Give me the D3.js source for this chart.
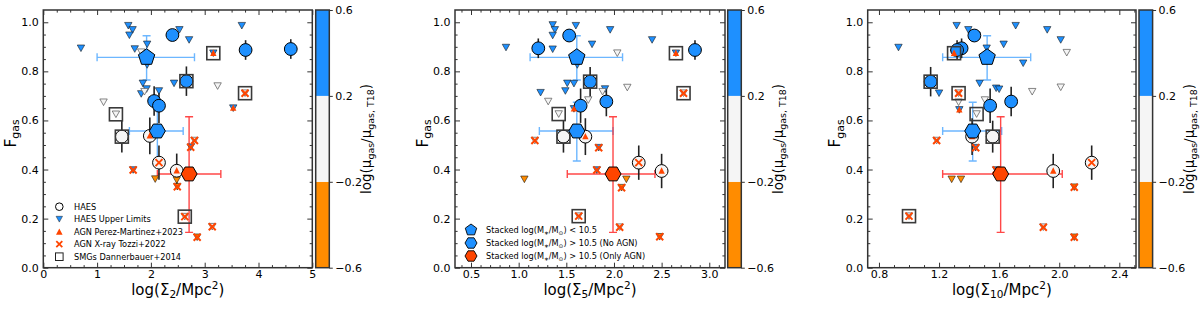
<!DOCTYPE html>
<html>
<head>
<meta charset="utf-8">
<script src="https://cdn.jsdelivr.net/npm/d3@7"></script>
<style>
  body { margin: 0; background: #fff; }
  svg { display: block; font-family: 'DejaVu Sans', sans-serif; }
</style>
</head>
<body>
<svg id="chart" width="1200" height="309"></svg>
<script>
// ---- data ----
// x-axis settings of the three panels (Sigma_2, Sigma_5, Sigma_10)
const xDomains = [[0, 5], [0.332, 3.165], [0.725, 2.511]];
const xMajor = [[0, 1, 2, 3, 4, 5], [0.5, 1.0, 1.5, 2.0, 2.5, 3.0], [0.8, 1.2, 1.6, 2.0, 2.4]];
const xMinorStep = [0.25, 0.1, 0.1];
const xSub = ['2', '5', '10'];
const fgasTicks = [0, 0.2, 0.4, 0.6, 0.8, 1.0];

// colour bar log(mu_gas / mu_gas,T18)
const cbTicks = [-0.6, -0.2, 0.2, 0.6];
const cbBins = [[-0.6, -0.2, 'o'], [-0.2, 0.2, 'w'], [0.2, 0.6, 'b']];

// HAES detections: [x, Fgas, error, colour class, overlay]
const haes2 = [
  [2.40, 0.948, 0.02, 'b', ''], [3.76, 0.887, 0.04, 'b', ''], [4.60, 0.891, 0.04, 'b', ''],
  [2.66, 0.760, 0.06, 'b', 'smg'], [2.06, 0.679, 0.06, 'b', ''], [2.15, 0.660, 0.07, 'b', ''],
  [1.46, 0.534, 0.065, 'w', 'smg'], [1.98, 0.537, 0.075, 'w', 'agn'],
  [2.15, 0.428, 0.07, 'w', 'xr'], [2.48, 0.395, 0.07, 'w', 'agn']
];
const haes5 = [
  [1.53, 0.946, 0.02, 'b', ''], [1.206, 0.894, 0.04, 'b', ''], [2.85, 0.887, 0.04, 'b', ''],
  [1.75, 0.758, 0.06, 'b', 'smg'], [1.92, 0.677, 0.06, 'b', ''], [1.65, 0.660, 0.07, 'b', ''],
  [1.47, 0.534, 0.065, 'w', 'smg'], [1.70, 0.534, 0.075, 'w', 'agn'],
  [2.26, 0.428, 0.07, 'w', 'xr'], [2.50, 0.394, 0.07, 'w', 'agn']
];
const haes10 = [
  [1.435, 0.946, 0.02, 'b', ''], [1.35, 0.894, 0.04, 'b', ''], [1.32, 0.887, 0.04, 'b', ''],
  [1.144, 0.758, 0.06, 'b', 'smg'], [1.68, 0.677, 0.06, 'b', ''], [1.54, 0.660, 0.07, 'b', ''],
  [1.557, 0.534, 0.065, 'w', 'smg'], [1.42, 0.534, 0.075, 'w', 'agn'],
  [2.216, 0.428, 0.07, 'w', 'xr'], [1.96, 0.394, 0.07, 'w', 'agn']
];

// HAES upper limits: [x, Fgas, colour class, overlay]
const upper2 = [
  [0.70, 0.894, 'b', ''], [1.58, 0.986, 'b', ''], [1.66, 0.969, 'b', ''], [1.60, 0.947, 'b', ''],
  [2.53, 0.969, 'b', ''], [2.71, 0.928, 'b', ''], [3.69, 0.986, 'b', ''], [1.70, 0.891, 'b', ''],
  [1.93, 0.910, 'b', ''], [1.93, 0.826, 'b', ''], [1.85, 0.751, 'b', ''], [1.92, 0.728, 'b', ''],
  [1.82, 0.708, 'b', ''], [2.15, 0.720, 'b', ''], [2.43, 0.751, 'b', ''],
  [3.53, 0.650, 'b', 'agn'], [3.16, 0.874, 'b', 'agn smg'], [1.67, 0.398, 'b', 'xr'], [2.74, 0.491, 'b', 'xr'],
  [1.82, 0.878, 'w', ''], [1.12, 0.674, 'w', ''], [1.35, 0.625, 'w', 'smg'], [3.24, 0.740, 'w', ''],
  [1.88, 0.717, 'w', ''], [2.03, 0.683, 'w', ''],
  [3.75, 0.711, 'w', 'xr smg'], [2.81, 0.518, 'w', 'xr'], [3.14, 0.167, 'w', 'xr'], [2.63, 0.208, 'w', 'xr smg'],
  [2.08, 0.361, 'o', ''], [2.48, 0.357, 'o', ''], [2.49, 0.330, 'o', 'xr'], [2.86, 0.124, 'o', 'xr']
];
const upper5 = [
  [0.867, 0.897, 'b', ''], [1.357, 0.989, 'b', ''], [1.38, 0.969, 'b', ''], [1.357, 0.946, 'b', ''],
  [1.96, 0.969, 'b', ''], [2.40, 0.928, 'b', ''], [1.60, 0.986, 'b', ''], [1.357, 0.890, 'b', ''],
  [1.77, 0.910, 'b', ''], [1.615, 0.826, 'b', ''], [1.51, 0.751, 'b', ''], [1.58, 0.750, 'b', ''],
  [1.906, 0.728, 'b', ''], [1.49, 0.720, 'b', ''], [1.23, 0.713, 'b', ''],
  [1.58, 0.647, 'b', 'agn'], [2.65, 0.874, 'b', 'agn smg'], [1.82, 0.398, 'b', 'xr'], [1.84, 0.489, 'b', 'xr'],
  [2.035, 0.874, 'w', ''], [1.31, 0.677, 'w', ''], [1.42, 0.626, 'w', 'smg'], [2.14, 0.734, 'w', ''],
  [1.88, 0.717, 'w', ''], [1.73, 0.683, 'w', ''],
  [2.73, 0.711, 'w', 'xr smg'], [1.17, 0.518, 'w', 'xr'], [2.06, 0.165, 'w', 'xr'], [1.63, 0.210, 'w', 'xr smg'],
  [1.06, 0.360, 'o', ''], [2.13, 0.360, 'o', ''], [2.08, 0.326, 'o', 'xr'], [2.48, 0.126, 'o', 'xr']
];
const upper10 = [
  [0.93, 0.897, 'b', ''], [1.317, 0.986, 'b', ''], [1.395, 0.969, 'b', ''], [1.45, 0.946, 'b', ''],
  [1.92, 0.969, 'b', ''], [2.01, 0.928, 'b', ''], [1.71, 0.986, 'b', ''], [1.517, 0.894, 'b', ''],
  [1.63, 0.910, 'b', ''], [1.76, 0.833, 'b', ''], [1.47, 0.751, 'b', ''], [1.58, 0.731, 'b', ''],
  [1.60, 0.727, 'b', ''], [1.20, 0.711, 'b', ''],
  [1.335, 0.643, 'b', 'agn'], [1.30, 0.874, 'b', 'agn smg'], [1.58, 0.398, 'b', 'xr'], [1.444, 0.489, 'b', 'xr'],
  [2.05, 0.876, 'w', ''], [1.33, 0.674, 'w', ''], [1.45, 0.626, 'w', 'smg'], [2.01, 0.735, 'w', ''],
  [1.82, 0.717, 'w', ''], [1.505, 0.683, 'w', ''],
  [1.33, 0.711, 'w', 'xr smg'], [1.184, 0.518, 'w', 'xr'], [1.894, 0.165, 'w', 'xr'], [1.00, 0.210, 'w', 'xr smg'],
  [1.284, 0.360, 'o', ''], [1.346, 0.360, 'o', ''], [2.10, 0.328, 'o', 'xr'], [2.10, 0.124, 'o', 'xr']
];

// stacked points: low mass, high mass (no AGN), high mass (only AGN)
const stackF = [0.857, 0.557, 0.382];
const stackFlo = [0.765, 0.435, 0.144];
const stackFhi = [0.945, 0.674, 0.615];
// [x, x low, x high] per panel
const stack2 = [[1.92, 1.00, 2.81], [2.12, 1.60, 2.60], [2.71, 2.12, 3.30]];
const stack5 = [[1.61, 1.12, 2.09], [1.61, 1.217, 1.99], [1.99, 1.51, 2.43]];
const stack10 = [[1.52, 1.224, 1.81], [1.424, 1.224, 1.617], [1.61, 1.224, 2.02]];

const legendHaes = ['HAES', 'HAES Upper Limits', 'AGN Perez-Martinez+2023', 'AGN X-ray Tozzi+2022', 'SMGs Dannerbauer+2014'];
const legendStack = ['< 10.5', '> 10.5 (No AGN)', '> 10.5 (Only AGN)'];

// ---- layout & style ----
const plotTop = 10, plotBottom = 267.7;
const boxes = [
  {left: 43.3, right: 312.3, cb: 315.7},
  {left: 455, right: 725, cb: 727.7},
  {left: 867.7, right: 1136, cb: 1139}
];
const cbW = 13.6;
const fill = {b: '#1e90ff', w: '#f5f5f5', o: '#ff8c00'};
const agnColor = '#ff4500';
const frameColor = '#333';

const svg = d3.select('#chart');
const y = d3.scaleLinear().domain([0, 1.05]).range([plotBottom, plotTop]);

function triPath(cx, cy, w, h, down) {
  const s = down ? 1 : -1;
  return `M${cx},${cy + s * h / 2}L${cx - w / 2},${cy - s * h / 2}L${cx + w / 2},${cy - s * h / 2}Z`;
}

function polyPath(cx, cy, r, n, rot) {
  const pts = d3.range(n).map(i => {
    const a = rot + i * 2 * Math.PI / n;
    return [cx + r * Math.sin(a), cy - r * Math.cos(a)];
  });
  return 'M' + pts.join('L') + 'Z';
}

function xPath(cx, cy, s) {
  return `M${cx - s / 2},${cy - s / 2}L${cx + s / 2},${cy + s / 2}M${cx - s / 2},${cy + s / 2}L${cx + s / 2},${cy - s / 2}`;
}

function minorTicks(domain, step, major) {
  const out = [];
  for (let k = Math.ceil(domain[0] / step - 1e-9); k * step <= domain[1] + 1e-9; k++) {
    const v = +(k * step).toFixed(6);
    if (v <= domain[0] + 1e-6 || v >= domain[1] - 1e-6) continue;
    if (!major.some(m => Math.abs(m - v) < 1e-6)) out.push(v);
  }
  return out;
}

// text with sub / superscripts; parts = [[text, 'n' | 'sub' | 'sup']]
function richText(sel, parts, fs) {
  let shift = 0;
  parts.forEach(([t, kind]) => {
    const target = kind === 'sub' ? fs * 0.22 : kind === 'sup' ? -fs * 0.38 : 0;
    sel.append('tspan')
      .attr('dy', target - shift)
      .attr('font-size', kind === 'n' ? fs : fs * 0.7)
      .text(t);
    shift = target;
  });
}

function styleAxis(g) {
  g.select('.domain').remove();
  g.selectAll('line').attr('stroke', frameColor);
  g.selectAll('text').attr('fill', '#000').attr('font-family', 'DejaVu Sans');
}

function drawPanel(i, det, upper, stack) {
  const box = boxes[i];
  const x = d3.scaleLinear().domain(xDomains[i]).range([box.left, box.right]);
  const g = svg.append('g');
  const fmt = i === 0 ? d3.format('d') : d3.format('.1f');
  const xMin = minorTicks(xDomains[i], xMinorStep[i], xMajor[i]);
  const yMin = minorTicks([0, 1.05], 0.05, fgasTicks);

  // major + minor ticks on all four sides, pointing in
  g.append('g').attr('transform', `translate(0,${plotBottom})`)
    .call(d3.axisBottom(x).tickValues(xMajor[i]).tickSize(-5).tickPadding(3).tickFormat(fmt))
    .call(styleAxis).selectAll('text').attr('font-size', 11);
  g.append('g').attr('transform', `translate(0,${plotBottom})`)
    .call(d3.axisBottom(x).tickValues(xMin).tickSize(-2.6).tickFormat(''))
    .call(styleAxis);
  g.append('g').attr('transform', `translate(0,${plotTop})`)
    .call(d3.axisTop(x).tickValues(xMajor[i]).tickSize(-5).tickFormat(''))
    .call(styleAxis);
  g.append('g').attr('transform', `translate(0,${plotTop})`)
    .call(d3.axisTop(x).tickValues(xMin).tickSize(-2.6).tickFormat(''))
    .call(styleAxis);
  g.append('g').attr('transform', `translate(${box.left},0)`)
    .call(d3.axisLeft(y).tickValues(fgasTicks).tickSize(-5).tickPadding(4.5).tickFormat(d3.format('.1f')))
    .call(styleAxis).selectAll('text').attr('font-size', 11);
  g.append('g').attr('transform', `translate(${box.left},0)`)
    .call(d3.axisLeft(y).tickValues(yMin).tickSize(-2.6).tickFormat(''))
    .call(styleAxis);
  g.append('g').attr('transform', `translate(${box.right},0)`)
    .call(d3.axisRight(y).tickValues(fgasTicks).tickSize(-5).tickFormat(''))
    .call(styleAxis);
  g.append('g').attr('transform', `translate(${box.right},0)`)
    .call(d3.axisRight(y).tickValues(yMin).tickSize(-2.6).tickFormat(''))
    .call(styleAxis);

  // stacked error bars
  const errCol = [['#1e90ff', 0.65], ['#1e90ff', 0.65], ['#ff1a1a', 0.8]];
  stack.forEach((s, k) => {
    const cx = x(s[0]), cy = y(stackF[k]);
    const eg = g.append('g').attr('stroke', errCol[k][0]).attr('stroke-opacity', errCol[k][1])
      .attr('stroke-width', 1.4).attr('fill', 'none');
    const y1 = y(stackFlo[k]), y2 = y(stackFhi[k]);
    eg.append('path').attr('d',
      `M${x(s[1])},${cy}H${x(s[2])}M${cx},${y1}V${y2}` +
      `M${x(s[1])},${cy - 4}V${cy + 4}M${x(s[2])},${cy - 4}V${cy + 4}` +
      `M${cx - 4},${y1}H${cx + 4}M${cx - 4},${y2}H${cx + 4}`);
  });

  // detection error bars
  g.append('g').selectAll('line').data(det).join('line')
    .attr('x1', d => x(d[0])).attr('x2', d => x(d[0]))
    .attr('y1', d => y(d[1] - d[2])).attr('y2', d => y(d[1] + d[2]))
    .attr('stroke', '#222').attr('stroke-width', 1.6);

  // upper limits
  g.append('g').selectAll('path').data(upper).join('path')
    .attr('d', d => triPath(x(d[0]), y(d[1]), 7.4, 6.6, true))
    .attr('fill', d => fill[d[2]])
    .attr('stroke', d => d[2] === 'w' ? '#666' : '#1a1a1a')
    .attr('stroke-width', d => d[2] === 'w' ? 0.8 : 0.6);

  // detections
  g.append('g').selectAll('circle').data(det).join('circle')
    .attr('cx', d => x(d[0])).attr('cy', d => y(d[1])).attr('r', 6.4)
    .attr('fill', d => fill[d[3]]).attr('stroke', '#000').attr('stroke-width', 1);

  // overlays: SMG squares, AGN triangles, X-ray crosses
  const marks = det.map(d => [d[0], d[1], d[4]]).concat(upper.map(d => [d[0], d[1], d[3]]));
  g.append('g').selectAll('rect').data(marks.filter(d => d[2].includes('smg'))).join('rect')
    .attr('x', d => x(d[0]) - 6.5).attr('y', d => y(d[1]) - 6.5)
    .attr('width', 13).attr('height', 13)
    .attr('fill', 'none').attr('stroke', '#3a3a3a').attr('stroke-width', 1.6);
  g.append('g').selectAll('path').data(marks.filter(d => d[2].includes('agn'))).join('path')
    .attr('d', d => triPath(x(d[0]), y(d[1]) - 0.5, 6.4, 6.4, false))
    .attr('fill', agnColor);
  g.append('g').selectAll('path').data(marks.filter(d => d[2].includes('xr'))).join('path')
    .attr('d', d => xPath(x(d[0]), y(d[1]), 7))
    .attr('fill', 'none').attr('stroke', agnColor).attr('stroke-width', 2);

  // stacked markers
  const stackShape = [
    (cx, cy) => polyPath(cx, cy, 8.6, 5, 0),
    (cx, cy) => polyPath(cx, cy, 8, 6, Math.PI / 6),
    (cx, cy) => polyPath(cx, cy, 8, 6, Math.PI / 6)
  ];
  const stackFill = [fill.b, fill.b, agnColor];
  g.append('g').selectAll('path').data(stack).join('path')
    .attr('d', (s, k) => stackShape[k](x(s[0]), y(stackF[k])))
    .attr('fill', (s, k) => stackFill[k]).attr('stroke', '#000').attr('stroke-width', 1);

  // frame
  g.append('rect').attr('x', box.left).attr('y', plotTop)
    .attr('width', box.right - box.left).attr('height', plotBottom - plotTop)
    .attr('fill', 'none').attr('stroke', frameColor).attr('stroke-width', 1.5);

  // axis labels
  const xl = g.append('text').attr('x', (box.left + box.right) / 2).attr('y', 295)
    .attr('text-anchor', 'middle');
  richText(xl, [['log(Σ', 'n'], [xSub[i], 'sub'], ['/Mpc', 'n'], ['2', 'sup'], [')', 'n']], 15);
  const yl = g.append('text').attr('text-anchor', 'middle')
    .attr('transform', `translate(${box.left - 27.5},133.5) rotate(-90)`);
  richText(yl, [['F', 'n'], ['gas', 'sub']], 15.5);

  // colour bar
  const cb = d3.scaleLinear().domain([-0.6, 0.6]).range([plotBottom, plotTop]);
  g.append('g').selectAll('rect').data(cbBins).join('rect')
    .attr('x', box.cb).attr('width', cbW)
    .attr('y', d => cb(d[1])).attr('height', d => cb(d[0]) - cb(d[1]))
    .attr('fill', d => fill[d[2]]);
  g.append('rect').attr('x', box.cb).attr('y', plotTop).attr('width', cbW)
    .attr('height', plotBottom - plotTop)
    .attr('fill', 'none').attr('stroke', frameColor).attr('stroke-width', 1.5);
  g.append('g').attr('transform', `translate(${box.cb + cbW},0)`)
    .call(d3.axisRight(cb).tickValues(cbTicks).tickSize(3.5).tickPadding(2.5).tickFormat(d3.format('.1f')))
    .call(styleAxis).selectAll('text').attr('font-size', 11);
  const cl = g.append('text').attr('text-anchor', 'middle')
    .attr('transform', `translate(${box.cb + cbW + 41.5},139) rotate(-90)`);
  richText(cl, [['log(μ', 'n'], ['gas', 'sub'], ['/μ', 'n'], ['gas, T18', 'sub'], [')', 'n']], 13.5);
}

drawPanel(0, haes2, upper2, stack2);
drawPanel(1, haes5, upper5, stack5);
drawPanel(2, haes10, upper10, stack10);

// legend of the first panel
const lg1 = svg.append('g').attr('font-size', 8.2);
legendHaes.forEach((t, k) => {
  const cy = 206.7 + k * 12.5, cx = 59.3;
  if (k === 0) lg1.append('circle').attr('cx', cx).attr('cy', cy).attr('r', 3.8)
    .attr('fill', '#fff').attr('stroke', '#000').attr('stroke-width', 1);
  if (k === 1) lg1.append('path').attr('d', triPath(cx, cy, 6.4, 5.8, true))
    .attr('fill', fill.b).attr('stroke', '#1a1a1a').attr('stroke-width', 0.5);
  if (k === 2) lg1.append('path').attr('d', triPath(cx, cy, 6.6, 6.2, false)).attr('fill', agnColor);
  if (k === 3) lg1.append('path').attr('d', xPath(cx, cy, 6))
    .attr('stroke', agnColor).attr('stroke-width', 1.8).attr('fill', 'none');
  if (k === 4) lg1.append('rect').attr('x', cx - 3.8).attr('y', cy - 3.8).attr('width', 7.6).attr('height', 7.6)
    .attr('fill', 'none').attr('stroke', '#222').attr('stroke-width', 1);
  lg1.append('text').attr('x', 74).attr('y', cy).attr('dy', '0.36em').text(t);
});

// legend of the second panel
const lg2 = svg.append('g').attr('font-size', 8.2);
const lgFill = [fill.b, fill.b, agnColor];
legendStack.forEach((t, k) => {
  const cy = 230 + k * 13, cx = 471;
  lg2.append('path')
    .attr('d', k === 0 ? polyPath(cx, cy, 6, 5, 0) : polyPath(cx, cy, 6, 6, Math.PI / 6))
    .attr('fill', lgFill[k]).attr('stroke', '#000').attr('stroke-width', 0.9);
  const tx = lg2.append('text').attr('x', 486).attr('y', cy + 3);
  richText(tx, [['Stacked log(M', 'n'], ['∗', 'sub'], ['/M', 'n'], ['⊙', 'sub'], [') ' + t, 'n']], 8.2);
});
</script>
</body>
</html>
